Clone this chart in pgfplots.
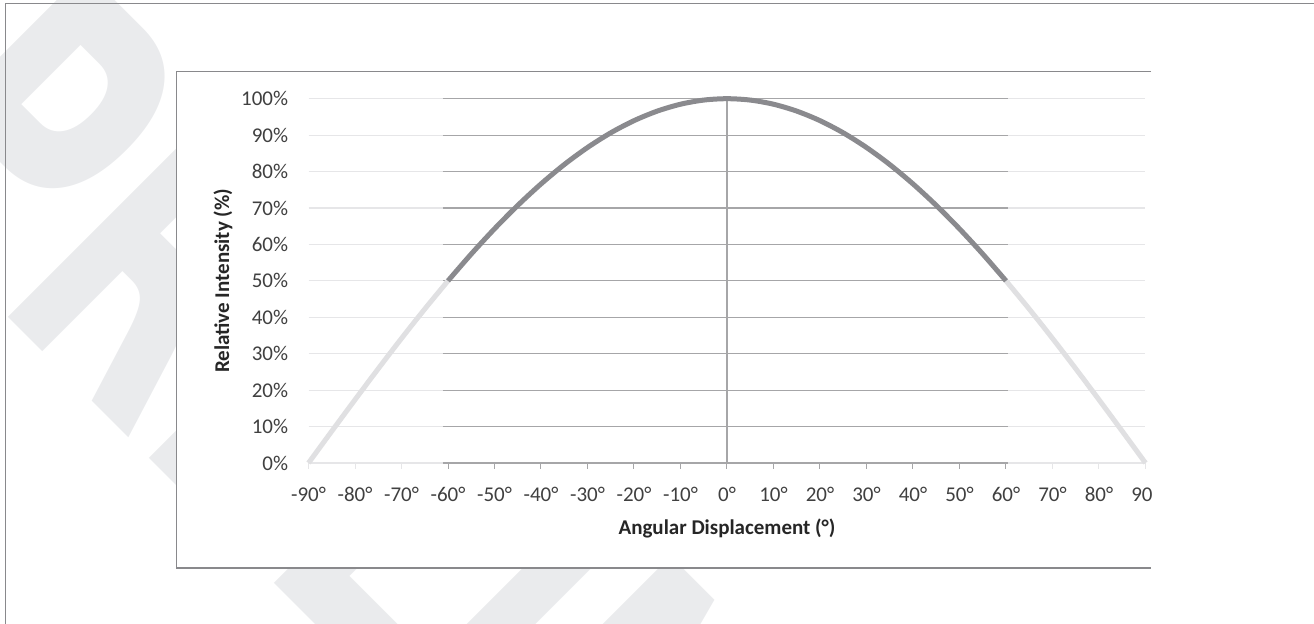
\documentclass[border=0pt]{standalone}
\usepackage{fontspec}
\setmainfont{Carlito}
\newfontfamily\wmfont{DejaVu Sans}
\usepackage{graphicx}
\usepackage{pgfplots}
\pgfplotsset{compat=1.18}

\definecolor{wmgray}{RGB}{234,235,237}
\definecolor{framegray}{RGB}{137,137,140}
\definecolor{lightgrid}{RGB}{230,230,232}
\definecolor{darkgrid}{RGB}{166,166,168}
\definecolor{darkcurve}{RGB}{138,138,142}
\definecolor{lightcurve}{RGB}{224,224,226}
\definecolor{ticktext}{RGB}{64,64,64}
\definecolor{titletext}{RGB}{38,38,38}

\begin{document}
\begin{tikzpicture}
\useasboundingbox (0,0) rectangle (657pt,312pt);

% watermark behind the chart
\node[anchor=base west, inner sep=0pt, rotate=-45, text=wmgray] at (-71.3pt,228.8pt)
  {\scalebox{0.63}[1]{\wmfont\bfseries\fontsize{205.5pt}{205.5pt}\selectfont PRELIMINARY}};

% outer frame (left and top edges)
\draw[framegray, line width=0.75pt] (2.75pt,0pt) -- (2.75pt,310.25pt) -- (657pt,310.25pt);

% chart area
\fill[white] (88.25pt,28pt) rectangle (575.5pt,276.25pt);

\begin{axis}[
    at={(154.25pt,80.5pt)}, anchor=south west,
    scale only axis,
    width=418.5pt, height=182.15pt,
    xmin=-90, xmax=90, ymin=0, ymax=100,
    clip=false,
    axis line style={draw=none},
    xtick={-90,-80,...,90},
    xticklabels={-90°,-80°,-70°,-60°,-50°,-40°,-30°,-20°,-10°,0°,10°,20°,30°,40°,50°,60°,70°,80°,90°},
    ytick={0,10,...,100},
    yticklabels={0\%,10\%,20\%,30\%,40\%,50\%,60\%,70\%,80\%,90\%,100\%},
    ymajorgrids,
    major grid style={lightgrid, line width=0.6pt},
    xtick pos=left, tick align=outside, major tick length=3pt,
    xtick style={lightgrid, line width=0.5pt},
    ytick style={draw=none},
    tick label style={font=\fontsize{10.5}{12}\selectfont, text=ticktext, inner sep=0pt},
    yticklabel style={anchor=east, xshift=-7pt},
    xticklabel style={anchor=north, yshift=-9pt},
    xlabel={Angular Displacement (°)},
    ylabel={Relative Intensity (\%)},
    label style={font=\bfseries\fontsize{10.5}{12}\selectfont, text=titletext},
    xlabel style={at={(axis description cs:0.5,-0.1976)}, anchor=base},
    ylabel style={at={(axis description cs:-0.1022,0.5)}, anchor=center},
  ]
  % darker grid of the central part
  \pgfplotsinvokeforeach{0,10,...,100}{
    \draw[darkgrid, line width=0.6pt] (axis cs:-61.1,#1) -- (axis cs:60.5,#1);
  }
  \draw[darkgrid, line width=0.6pt] (axis cs:0,0) -- (axis cs:0,100);
  \pgfplotsinvokeforeach{-60,-50,...,60}{
    \draw[darkgrid, line width=0.5pt] (axis cs:#1,0) -- ++(0pt,-3pt);
  }

  \addplot[lightcurve, line width=2.5pt, smooth] coordinates {
    (-90,0) (-85,8.72) (-80,17.36) (-75,25.88) (-70,34.20) (-65,42.26) (-60,50.00)
  };
  \addplot[lightcurve, line width=2.5pt, smooth] coordinates {
    (60,50.00) (65,42.26) (70,34.20) (75,25.88) (80,17.36) (85,8.72) (90,0)
  };
  \addplot[darkcurve, line width=2.5pt, smooth] coordinates {
    (-60,50.00) (-55,57.36) (-50,64.28) (-45,70.71) (-40,76.60) (-35,81.92)
    (-30,86.60) (-25,90.63) (-20,93.97) (-15,96.59) (-10,98.48) (-5,99.62)
    (0,100) (5,99.62) (10,98.48) (15,96.59) (20,93.97) (25,90.63) (30,86.60)
    (35,81.92) (40,76.60) (45,70.71) (50,64.28) (55,57.36) (60,50.00)
  };
\end{axis}

% the chart is cut off at its right side
\fill[white] (575.75pt,0pt) rectangle (657pt,309.5pt);
\draw[framegray, line width=0.55pt] (575.5pt,276.25pt) -- (88.25pt,276.25pt)
  -- (88.25pt,28pt) -- (575.5pt,28pt);
\end{tikzpicture}
\end{document}
